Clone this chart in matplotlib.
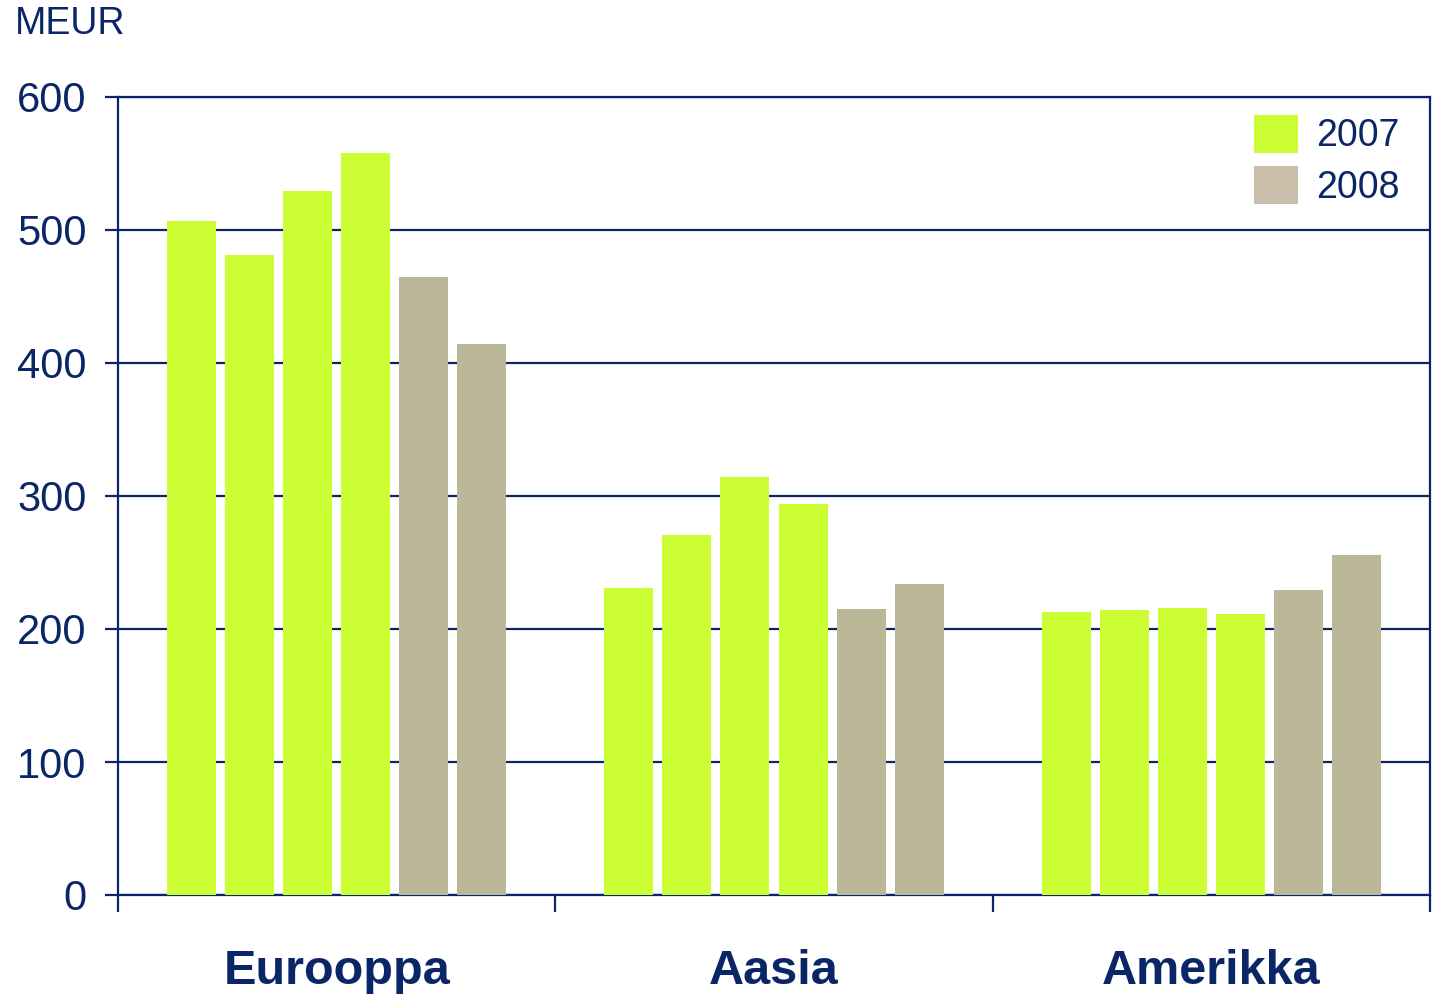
import matplotlib
matplotlib.use("Agg")
import matplotlib.pyplot as plt
from matplotlib.patches import Patch
import numpy as np

regions = ["Eurooppa", "Aasia", "Amerikka"]
periods = ["Q1/07", "Q2/07", "Q3/07", "Q4/07", "Q1/08", "Q2/08"]
period_year = ["2007", "2007", "2007", "2007", "2008", "2008"]
eurooppa = [507, 481, 529, 558, 465, 414]
aasia = [231, 271, 314, 294, 215, 234]
amerikka = [213, 214, 216, 211, 229, 256]
yticks = [0, 100, 200, 300, 400, 500, 600]
unit_label = "MEUR"

navy = "#0B2667"
bar_colors = {"2007": "#CCFF33", "2008": "#BAB898"}
legend_colors = {"2007": "#CCFF33", "2008": "#C8BEAA"}

plt.rcParams["font.family"] = ["Liberation Sans", "DejaVu Sans"]

fig = plt.figure(figsize=(14.35, 9.94), dpi=100)
ax = fig.add_axes([118/1435, 1-895/994, (1430-118)/1435, (895-97)/994])

data = np.array([eurooppa, aasia, amerikka])
pitch = 0.1327
width = 0.112
for i, p in enumerate(periods):
    x = np.arange(len(regions)) + 0.5 + (i - 2.5) * pitch
    ax.bar(x, data[:, i], width=width, color=bar_colors[period_year[i]],
           zorder=3, linewidth=0)

ax.set_xlim(0, 3)
ax.set_ylim(0, 600)
ax.set_yticks(yticks)
ax.set_yticklabels([str(t) for t in yticks])
ax.yaxis.grid(True, color=navy, linewidth=1.6, zorder=1)
ax.set_axisbelow(True)

ax.set_xticks([0, 1, 2, 3])
ax.set_xticklabels([])
ax.set_xticks([0.5, 1.5, 2.5], minor=True)
ax.set_xticklabels(regions, minor=True, fontsize=35, fontweight="bold", color=navy)
ax.tick_params(axis="x", which="major", direction="out", length=12, width=1.6, color=navy)
ax.tick_params(axis="x", which="minor", length=0, pad=39)
ax.tick_params(axis="y", direction="out", length=9.5, width=1.6, color=navy,
               labelsize=30, labelcolor=navy, pad=13)

for s in ax.spines.values():
    s.set_color(navy)
    s.set_linewidth(1.6)

handles = [Patch(facecolor=legend_colors[y], edgecolor="none", label=y) for y in ["2007", "2008"]]
leg = ax.legend(handles=handles, loc="upper right", bbox_to_anchor=(0.977, 0.978),
                frameon=False, fontsize=27, handlelength=1.15, handleheight=1.2,
                handletextpad=0.5, labelspacing=0.3, borderpad=0, borderaxespad=0)
for t in leg.get_texts():
    t.set_color(navy)

fig.text(15/1435, 1-24/994, unit_label, fontsize=27, color=navy, va="center", ha="left")

fig.savefig("out.png", dpi=100, facecolor="white")
